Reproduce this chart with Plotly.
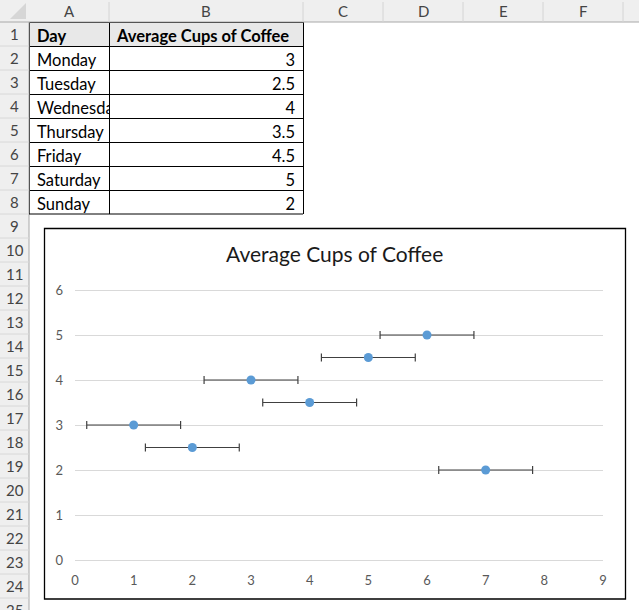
import plotly.graph_objects as go

days = ["Monday", "Tuesday", "Wednesday", "Thursday", "Friday", "Saturday", "Sunday"]
avg_cups = [3, 2.5, 4, 3.5, 4.5, 5, 2]
day_number = [1, 2, 3, 4, 5, 6, 7]
error_x = 0.8
col_letters = ["A", "B", "C", "D", "E", "F"]
row_numbers = list(range(1, 26))
table_header = ["Day", "Average Cups of Coffee"]

W, H = 639, 610


def px(x):
    return x / W


def py(y):
    return 1 - y / H


# sheet geometry in pixels
col_edges = [29, 109, 303, 383, 463, 543, 623]
row_top = 22
row_h = 24

shapes = []
annotations = []


def label(text, x, y, size=15, color="#444444", family="Lato"):
    annotations.append(dict(text=text, x=px(x), y=py(y), xref="paper", yref="paper",
                            xanchor="center", yanchor="middle", showarrow=False,
                            font=dict(family=family, size=size, color=color)))


# column header strip + row number strip
shapes.append(dict(type="rect", xref="paper", yref="paper", x0=0, x1=1, y0=py(row_top), y1=1,
                   fillcolor="#efefef", line_width=0, layer="below"))
shapes.append(dict(type="rect", xref="paper", yref="paper", x0=0, x1=px(col_edges[0]), y0=0, y1=1,
                   fillcolor="#efefef", line_width=0, layer="below"))
shapes.append(dict(type="line", xref="paper", yref="paper", x0=0, x1=1, y0=py(row_top), y1=py(row_top),
                   line=dict(color="#a8a8a8", width=1)))
shapes.append(dict(type="line", xref="paper", yref="paper", x0=px(col_edges[0]), x1=px(col_edges[0]),
                   y0=0, y1=py(row_top), line=dict(color="#a8a8a8", width=1)))
# little corner triangle
shapes.append(dict(type="path", xref="paper", yref="paper",
                   path=f"M {px(10)} {py(19)} L {px(26)} {py(19)} L {px(26)} {py(3)} Z",
                   fillcolor="#d6d6d6", line_width=0))

for i, letter in enumerate(col_letters):
    x0, x1 = col_edges[i], col_edges[i + 1]
    shapes.append(dict(type="line", xref="paper", yref="paper", x0=px(x1), x1=px(x1),
                       y0=py(row_top), y1=py(2), line=dict(color="#d4d4d4", width=1)))
    label(letter, (x0 + x1) / 2, 11)

for n in row_numbers:
    y0 = row_top + (n - 1) * row_h
    y1 = y0 + row_h
    shapes.append(dict(type="line", xref="paper", yref="paper", x0=0, x1=px(col_edges[0]),
                       y0=py(y1), y1=py(y1), line=dict(color="#d8d8d8", width=1)))
    label(str(n), 14.5, (y0 + y1) / 2)

# bottom border of the data range (table trace leaves it off)
table_bottom = row_top + (len(days) + 1) * row_h
shapes.append(dict(type="line", xref="paper", yref="paper", x0=px(col_edges[0]), x1=px(col_edges[2]),
                   y0=py(table_bottom), y1=py(table_bottom), line=dict(color="black", width=1)))

# chart area border
shapes.append(dict(type="rect", xref="paper", yref="paper", x0=px(44.5), x1=px(625.5),
                   y0=py(599), y1=py(228.5), line=dict(color="black", width=1.3), fillcolor="rgba(0,0,0,0)"))

label("Average Cups of Coffee", 334, 254, size=21, color="#1a1a1a")

fig = go.Figure()

# sheet range A1:B8
fig.add_trace(go.Table(
    domain=dict(x=[px(col_edges[0]), px(col_edges[2])], y=[py(table_bottom), py(row_top)]),
    columnwidth=[col_edges[1] - col_edges[0], col_edges[2] - col_edges[1]],
    header=dict(values=table_header, fill_color="#e8e8e8", line_color="black", align="left",
                height=row_h, font=dict(family="Lato", size=16.5, color="black", weight="bold")),
    cells=dict(values=[days, avg_cups], fill_color="white", line_color="black",
               align=["left", "right"], height=row_h,
               font=dict(family="Lato", size=16.5, color="black")),
))

fig.add_trace(go.Scatter(
    x=day_number, y=avg_cups, mode="markers",
    marker=dict(color="#5b9bd5", size=9),
    error_x=dict(type="constant", value=error_x, color="#404040", thickness=1.2, width=4),
    showlegend=False,
))

# y range padded a little so plotly keeps the gridlines at 0 and 6
fig.update_layout(
    width=W, height=H,
    margin=dict(l=0, r=0, t=0, b=0, autoexpand=False),
    paper_bgcolor="white", plot_bgcolor="white",
    shapes=shapes, annotations=annotations,
    xaxis=dict(domain=[px(75), px(603)], range=[0, 9], dtick=1, showgrid=False, zeroline=False,
               showline=False, ticklabelstandoff=9, automargin=False,
               tickfont=dict(family="Lato", size=13, color="#595959")),
    yaxis=dict(domain=[py(562.25), py(287.75)], range=[-0.05, 6.05], dtick=1, showgrid=True,
               gridcolor="#d9d9d9", gridwidth=1, zeroline=False, showline=False,
               ticklabelstandoff=11, automargin=False,
               tickfont=dict(family="Lato", size=13, color="#595959")),
)

fig.write_html("out.html", config={"displayModeBar": False},
               post_script="document.body.style.margin = '0';")
